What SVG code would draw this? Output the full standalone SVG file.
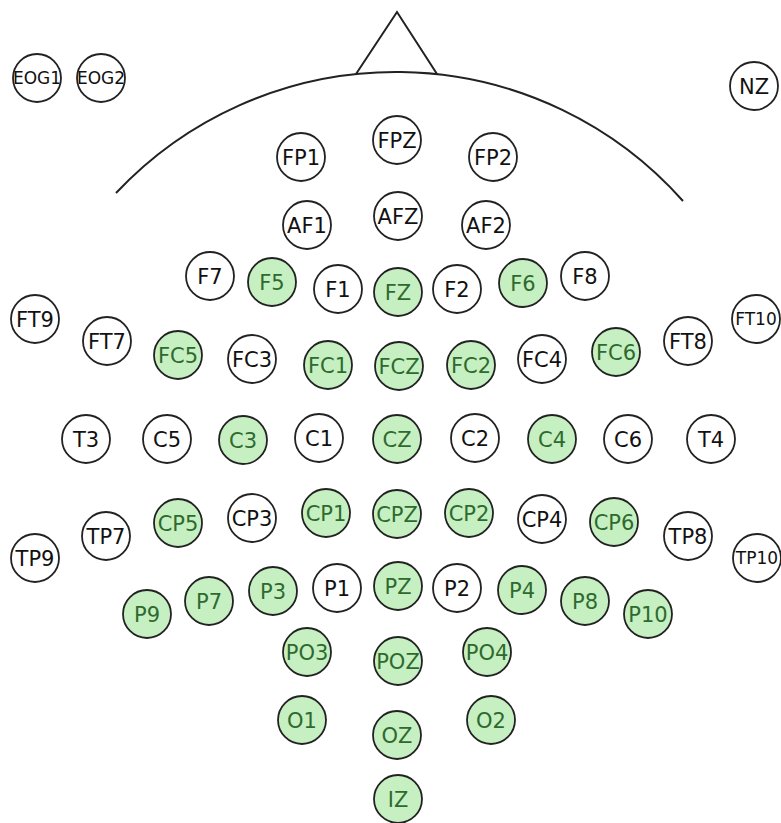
<svg xmlns="http://www.w3.org/2000/svg" width="781" height="823" viewBox="0 0 781 823">
<style>
.bg{fill:#ffffff}
.head{fill:none;stroke:#222;stroke-width:2}
circle{stroke:#222;stroke-width:1.8}
.w circle{fill:#ffffff}
.g circle{fill:#c6f0c2}
text{font-family:"DejaVu Sans",Verdana,sans-serif;font-size:21px;text-anchor:middle}
.w text{fill:#111}
.g text{fill:#2e6a2e}
text.s{font-size:17px}
</style>
<rect class="bg" x="0" y="0" width="781" height="823"/>
<g id="head">
<path class="head" d="M116,193 A384,384 0 0 1 683,201"/>
<path class="head" d="M356,74 L397,12 L437,74" stroke-linejoin="miter"/>
</g>
<g id="connectors"/>
<g id="EOG1" class="w"><circle cx="37" cy="78" r="24"/><text class="s" x="37" y="84">EOG1</text></g>
<g id="EOG2" class="w"><circle cx="101" cy="78" r="24"/><text class="s" x="101" y="84">EOG2</text></g>
<g id="NZ" class="w"><circle cx="754" cy="86" r="24"/><text x="754" y="93.5">NZ</text></g>
<g id="FP1" class="w"><circle cx="301" cy="157" r="24"/><text x="301" y="164.5">FP1</text></g>
<g id="FPZ" class="w"><circle cx="397" cy="140" r="24"/><text x="397" y="147.5">FPZ</text></g>
<g id="FP2" class="w"><circle cx="493" cy="157" r="24"/><text x="493" y="164.5">FP2</text></g>
<g id="AF1" class="w"><circle cx="307" cy="225" r="24"/><text x="307" y="232.5">AF1</text></g>
<g id="AFZ" class="w"><circle cx="398" cy="216" r="24"/><text x="398" y="223.5">AFZ</text></g>
<g id="AF2" class="w"><circle cx="486" cy="225" r="24"/><text x="486" y="232.5">AF2</text></g>
<g id="F7" class="w"><circle cx="210" cy="276" r="24"/><text x="210" y="283.5">F7</text></g>
<g id="F5" class="g"><circle cx="272" cy="282" r="24"/><text x="272" y="289.5">F5</text></g>
<g id="F1" class="w"><circle cx="338" cy="289" r="24"/><text x="338" y="296.5">F1</text></g>
<g id="FZ" class="g"><circle cx="398" cy="292" r="24"/><text x="398" y="299.5">FZ</text></g>
<g id="F2" class="w"><circle cx="457" cy="289" r="24"/><text x="457" y="296.5">F2</text></g>
<g id="F6" class="g"><circle cx="523" cy="283" r="24"/><text x="523" y="290.5">F6</text></g>
<g id="F8" class="w"><circle cx="585" cy="276" r="24"/><text x="585" y="283.5">F8</text></g>
<g id="FT9" class="w"><circle cx="35" cy="319" r="24"/><text x="35" y="326.5">FT9</text></g>
<g id="FT7" class="w"><circle cx="107" cy="341" r="24"/><text x="107" y="348.5">FT7</text></g>
<g id="FC5" class="g"><circle cx="178" cy="355" r="24"/><text x="178" y="362.5">FC5</text></g>
<g id="FC3" class="w"><circle cx="252" cy="359" r="24"/><text x="252" y="366.5">FC3</text></g>
<g id="FC1" class="g"><circle cx="328" cy="365" r="24"/><text x="328" y="372.5">FC1</text></g>
<g id="FCZ" class="g"><circle cx="399" cy="366" r="24"/><text x="399" y="373.5">FCZ</text></g>
<g id="FC2" class="g"><circle cx="471" cy="365" r="24"/><text x="471" y="372.5">FC2</text></g>
<g id="FC4" class="w"><circle cx="542" cy="359" r="24"/><text x="542" y="366.5">FC4</text></g>
<g id="FC6" class="g"><circle cx="616" cy="352" r="24"/><text x="616" y="359.5">FC6</text></g>
<g id="FT8" class="w"><circle cx="688" cy="341" r="24"/><text x="688" y="348.5">FT8</text></g>
<g id="FT10" class="w"><circle cx="756" cy="319" r="24"/><text class="s" x="756" y="325">FT10</text></g>
<g id="T3" class="w"><circle cx="86" cy="439" r="24"/><text x="86" y="446.5">T3</text></g>
<g id="C5" class="w"><circle cx="167" cy="439" r="24"/><text x="167" y="446.5">C5</text></g>
<g id="C3" class="g"><circle cx="243" cy="440" r="24"/><text x="243" y="447.5">C3</text></g>
<g id="C1" class="w"><circle cx="319" cy="438" r="24"/><text x="319" y="445.5">C1</text></g>
<g id="CZ" class="g"><circle cx="397" cy="439" r="24"/><text x="397" y="446.5">CZ</text></g>
<g id="C2" class="w"><circle cx="475" cy="438" r="24"/><text x="475" y="445.5">C2</text></g>
<g id="C4" class="g"><circle cx="552" cy="439" r="24"/><text x="552" y="446.5">C4</text></g>
<g id="C6" class="w"><circle cx="628" cy="439" r="24"/><text x="628" y="446.5">C6</text></g>
<g id="T4" class="w"><circle cx="711" cy="439" r="24"/><text x="711" y="446.5">T4</text></g>
<g id="TP9" class="w"><circle cx="35" cy="558" r="24"/><text x="35" y="565.5">TP9</text></g>
<g id="TP7" class="w"><circle cx="106" cy="536" r="24"/><text x="106" y="543.5">TP7</text></g>
<g id="CP5" class="g"><circle cx="178" cy="523" r="24"/><text x="178" y="530.5">CP5</text></g>
<g id="CP3" class="w"><circle cx="252" cy="518" r="24"/><text x="252" y="525.5">CP3</text></g>
<g id="CP1" class="g"><circle cx="326" cy="513" r="24"/><text x="326" y="520.5">CP1</text></g>
<g id="CPZ" class="g"><circle cx="397" cy="514" r="24"/><text x="397" y="521.5">CPZ</text></g>
<g id="CP2" class="g"><circle cx="469" cy="513" r="24"/><text x="469" y="520.5">CP2</text></g>
<g id="CP4" class="w"><circle cx="542" cy="519" r="24"/><text x="542" y="526.5">CP4</text></g>
<g id="CP6" class="g"><circle cx="614" cy="522" r="24"/><text x="614" y="529.5">CP6</text></g>
<g id="TP8" class="w"><circle cx="688" cy="536" r="24"/><text x="688" y="543.5">TP8</text></g>
<g id="TP10" class="w"><circle cx="757" cy="558" r="24"/><text class="s" x="757" y="564">TP10</text></g>
<g id="P9" class="g"><circle cx="147" cy="614" r="24"/><text x="147" y="621.5">P9</text></g>
<g id="P7" class="g"><circle cx="209" cy="601" r="24"/><text x="209" y="608.5">P7</text></g>
<g id="P3" class="g"><circle cx="273" cy="591" r="24"/><text x="273" y="598.5">P3</text></g>
<g id="P1" class="w"><circle cx="337" cy="588" r="24"/><text x="337" y="595.5">P1</text></g>
<g id="PZ" class="g"><circle cx="398" cy="586" r="24"/><text x="398" y="593.5">PZ</text></g>
<g id="P2" class="w"><circle cx="457" cy="588" r="24"/><text x="457" y="595.5">P2</text></g>
<g id="P4" class="g"><circle cx="522" cy="590" r="24"/><text x="522" y="597.5">P4</text></g>
<g id="P8" class="g"><circle cx="585" cy="601" r="24"/><text x="585" y="608.5">P8</text></g>
<g id="P10" class="g"><circle cx="648" cy="614" r="24"/><text x="648" y="621.5">P10</text></g>
<g id="PO3" class="g"><circle cx="307" cy="652" r="24"/><text x="307" y="659.5">PO3</text></g>
<g id="POZ" class="g"><circle cx="398" cy="661" r="24"/><text x="398" y="668.5">POZ</text></g>
<g id="PO4" class="g"><circle cx="487" cy="652" r="24"/><text x="487" y="659.5">PO4</text></g>
<g id="O1" class="g"><circle cx="302" cy="720" r="24"/><text x="302" y="727.5">O1</text></g>
<g id="OZ" class="g"><circle cx="397" cy="735" r="24"/><text x="397" y="742.5">OZ</text></g>
<g id="O2" class="g"><circle cx="491" cy="720" r="24"/><text x="491" y="727.5">O2</text></g>
<g id="IZ" class="g"><circle cx="398" cy="799" r="24"/><text x="398" y="806.5">IZ</text></g>
</svg>
